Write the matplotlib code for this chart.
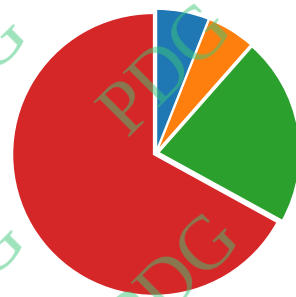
import matplotlib
matplotlib.use("Agg")
import matplotlib.pyplot as plt

# Datos del gráfico (porcentajes)
valores = [6, 5.5, 21.5, 67]
colores = ["#1f77b4", "#ff7f0e", "#2ca02c", "#d62728"]

# Marca de agua
marca = "PDG"
marca_pos = [(168, 70), (176, 280), (-36, 76), (-38, 282)]  # píxeles (x, y desde arriba)

W, H = 296, 297
fig = plt.figure(figsize=(W / 100, H / 100), dpi=100)

# Radio del pastel en píxeles y centro
r = 141
cx, cy = 156, H - 153
ax = fig.add_axes([(cx - r) / W, (cy - r) / H, 2 * r / W, 2 * r / H])
ax.pie(valores, colors=colores, startangle=90, counterclock=False,
       explode=[0.02] * len(valores),
       wedgeprops=dict(edgecolor="white", linewidth=1))
ax.set_xlim(-1, 1)
ax.set_ylim(-1, 1)
ax.axis("off")

for x, y in marca_pos:
    fig.text(x / W, 1 - y / H, marca, fontsize=55, family="Liberation Serif",
             color="#3cc878", alpha=0.5, rotation=45, rotation_mode="anchor",
             ha="center", va="center")

fig.savefig("out.png", dpi=100)
